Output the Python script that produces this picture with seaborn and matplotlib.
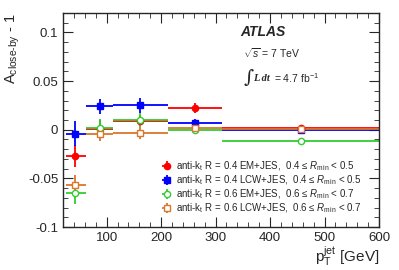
import numpy as np
import pandas as pd
import matplotlib
matplotlib.use("Agg")
import matplotlib.pyplot as plt
import seaborn as sns
from matplotlib.ticker import MultipleLocator, FormatStrFormatter

# bin edges and points (pT in GeV)
bin_edges = [25, 62, 112, 212, 312, 600]
pt_points = [42, 87, 162, 262, 457]

red_vals = [-0.027, 0.001, 0.0095, 0.022, 0.002]
red_errs = [0.011, 0.009, 0.006, 0.005, 0.003]
blue_vals = [-0.004, 0.024, 0.025, 0.007, 0.0]
blue_errs = [0.013, 0.008, 0.008, 0.004, 0.003]
green_vals = [-0.065, 0.002, 0.010, 0.0, -0.012]
green_errs = [0.011, 0.009, 0.007, 0.004, 0.003]
orange_vals = [-0.057, -0.004, -0.003, 0.0015, 0.001]
orange_errs = [0.011, 0.008, 0.006, 0.004, 0.003]

labels = [r'anti-k$_{\rm t}$ R = 0.4 EM+JES,  0.4 ≤ $R_{\rm min}$ < 0.5',
          r'anti-k$_{\rm t}$ R = 0.4 LCW+JES,  0.4 ≤ $R_{\rm min}$ < 0.5',
          r'anti-k$_{\rm t}$ R = 0.6 EM+JES,  0.6 ≤ $R_{\rm min}$ < 0.7',
          r'anti-k$_{\rm t}$ R = 0.6 LCW+JES,  0.6 ≤ $R_{\rm min}$ < 0.7']

sns.set_style("ticks")
plt.rcParams['font.family'] = ['Liberation Sans', 'DejaVu Sans']
plt.rcParams['mathtext.fontset'] = 'custom'
plt.rcParams['mathtext.rm'] = 'Liberation Sans'
plt.rcParams['mathtext.it'] = 'Liberation Sans:italic'
plt.rcParams['mathtext.bf'] = 'Liberation Sans:bold'

fig = plt.figure(figsize=(3.99, 2.70), dpi=100)
ax = fig.add_axes([0.158, 0.159, 0.792, 0.793])

pts = np.array(pt_points)
edges = np.array(bin_edges)
xerr = [pts - edges[:-1], edges[1:] - pts]

series = [
    (red_vals, red_errs, '#ff0000', 'o', True),
    (blue_vals, blue_errs, '#0000ff', 's', True),
    (green_vals, green_errs, '#33cc33', 'o', False),
    (orange_vals, orange_errs, '#d9772b', 's', False),
]

handles = []
for (vals, errs, col, mk, filled), lab in zip(series, labels):
    h = ax.errorbar(pts, vals, xerr=xerr, yerr=errs, fmt=mk, color=col,
                    ecolor=col, elinewidth=1.3, capsize=0, markersize=4.5,
                    mfc=col if filled else 'white', mec=col, mew=1.0, label=lab)
    handles.append(h)

ax.set_xlim(20, 600)
ax.set_ylim(-0.1, 0.12)
ax.xaxis.set_major_locator(MultipleLocator(100))
ax.xaxis.set_minor_locator(MultipleLocator(20))
ax.yaxis.set_major_locator(MultipleLocator(0.05))
ax.yaxis.set_minor_locator(MultipleLocator(0.01))
ax.yaxis.set_major_formatter(FormatStrFormatter('%g'))
ax.tick_params(which='both', direction='in', top=True, right=True, labelsize=9.5)
ax.tick_params(which='major', length=7)
ax.tick_params(which='minor', length=3.5)
for s in ax.spines.values():
    s.set_linewidth(1.0)

ax.set_ylabel(r'A$_{\rm close\text{-}by}$ - 1', fontsize=10.5, loc='top')
ax.yaxis.set_label_coords(-0.13, 1.0)
ax.set_xlabel(r'p$_{\rm T}^{\rm jet}$ [GeV]', fontsize=11, loc='right')
ax.xaxis.set_label_coords(1.0, -0.08)

ax.text(0.56, 0.91, 'ATLAS', transform=ax.transAxes, fontsize=10,
        fontweight='bold', fontstyle='italic', va='center')
ax.text(0.57, 0.81, r'$\sqrt{s}$ = 7 TeV', transform=ax.transAxes,
        fontsize=7.5, va='center')
ax.text(0.572, 0.695, '∫', transform=ax.transAxes, fontsize=14,
        va='center', family='DejaVu Serif')
ax.text(0.602, 0.695, 'L dt', transform=ax.transAxes, fontsize=7.5,
        va='center', family='Liberation Serif', fontweight='bold',
        fontstyle='italic')
ax.text(0.668, 0.695, r'= 4.7 fb$^{-1}$', transform=ax.transAxes,
        fontsize=7.5, va='center')

ax.legend(handles=handles, loc='upper left', bbox_to_anchor=(0.30, 0.335),
          frameon=False, fontsize=7, handlelength=1.0, handletextpad=0.5,
          labelspacing=0.05, borderaxespad=0)

fig.savefig('out.png', dpi=100)
